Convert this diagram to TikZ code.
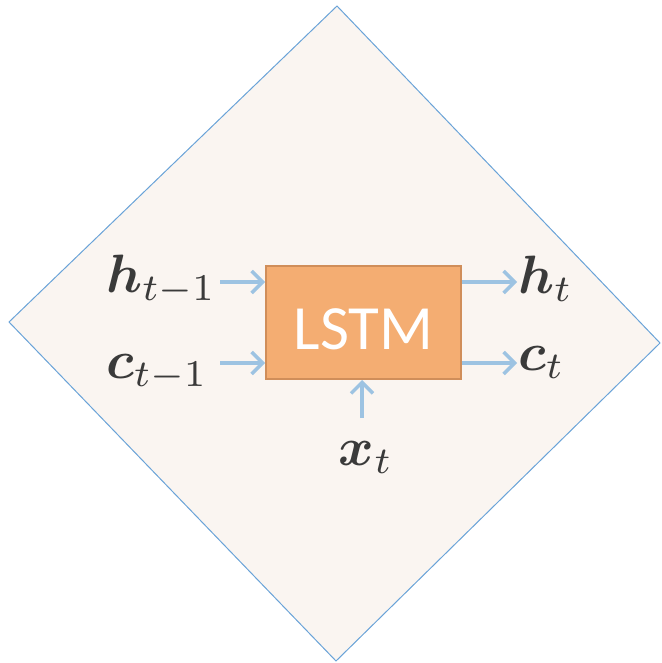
\documentclass[tikz,border=0pt]{standalone}
\usepackage{bm}
\usepackage{fontspec}
\newfontfamily\boxfont{Carlito}
\usetikzlibrary{arrows.meta}
\definecolor{diafill}{HTML}{FAF5F1}
\definecolor{diaedge}{HTML}{6AA3D8}
\definecolor{boxfill}{HTML}{F4AD72}
\definecolor{boxedge}{HTML}{D08E5A}
\definecolor{arrowc}{HTML}{9DC3E2}
\definecolor{labelc}{HTML}{3A3A3A}
\tikzset{
  lbl/.style={inner sep=0pt, text=labelc, scale=5.4},
  flow/.style={draw=arrowc, line width=3.5pt, -{Straight Barb[length=11pt,width=22pt,line width=3.5pt]}},
}
\begin{document}
\begin{tikzpicture}[x=1pt,y=-1pt]
\useasboundingbox (0,0) rectangle (661,663);
\draw[diaedge, fill=diafill, line width=1pt] (337,6) -- (660,343) -- (336,661) -- (9,322) -- cycle;
\node[draw=boxedge, fill=boxfill, line width=2pt, minimum width=195pt, minimum height=113pt, inner sep=0pt,
  text height=53pt, text depth=0pt,
  text=white, font=\boxfont\fontsize{63}{63}\selectfont] (lstm) at (363.5,322.5) {LSTM};
\node[lbl, anchor=base west] (hin) at (105,292) {$\bm{h}_{t-1}$};
\node[lbl, anchor=base west] (cin) at (105,378) {$\bm{c}_{t-1}$};
\node[lbl, anchor=base west] (hout) at (517,293) {$\bm{h}_{t}$};
\node[lbl, anchor=base west] (cout) at (517,370) {$\bm{c}_{t}$};
\node[lbl, anchor=base] (xin) at (366,465) {$\bm{x}_{t}$};
\coordinate (hinE) at (220,282);
\coordinate (cinE) at (220,363);
\draw[flow] (hinE) -- (hinE -| lstm.west);
\draw[flow] (cinE) -- (cinE -| lstm.west);
\draw[flow] (lstm.east |- hinE) -- (hout.west |- hinE);
\draw[flow] (lstm.east |- cinE) -- (cout.west |- cinE);
\draw[flow] (362,418) -- (lstm.south -| 362,0);
\end{tikzpicture}
\end{document}
